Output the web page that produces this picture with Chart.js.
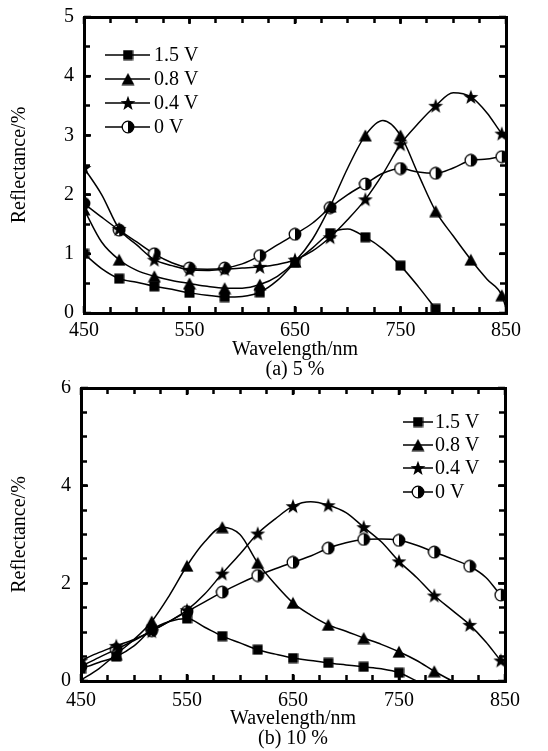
<!DOCTYPE html>
<html><head><meta charset="utf-8">
<script src="https://cdn.jsdelivr.net/npm/chart.js@4.4.1/dist/chart.umd.min.js"></script>
<style>
html,body{margin:0;padding:0;background:#fff;}
#wrap{position:relative;width:548px;height:751px;background:#fff;}
.box{position:absolute;left:0;width:548px;}
canvas{display:block;}
</style></head><body>
<div id="wrap">
<div class="box" style="top:0;height:380px"><canvas id="ca" width="548" height="380"></canvas></div>
<div class="box" style="top:380px;height:371px"><canvas id="cb" width="548" height="371"></canvas></div>
</div>
<script>
// ---------- data ----------
const wavelengths = [450, 466.7, 483.3, 500, 516.7, 533.3, 550, 566.7, 583.3, 600, 616.7, 633.3, 650, 666.7, 683.3, 700, 716.7, 733.3, 750, 766.7, 783.3, 800, 816.7, 832, 846, 850];
const seriesLabels = ['1.5 V', '0.8 V', '0.4 V', '0 V'];
const xTickLabels = [450, 550, 650, 750, 850];
const yTickLabelsA = [0, 1, 2, 3, 4, 5];
const yTickLabelsB = [0, 2, 4, 6];

// (a) 5 %
const a_15V = [1.00, 0.75, 0.58, 0.52, 0.45, 0.40, 0.34, 0.30, 0.27, 0.28, 0.35, 0.55, 0.85, 1.10, 1.35, 1.42, 1.28, 1.08, 0.80, 0.45, 0.07, null, null, null, null, null];
const a_08V = [1.75, 1.20, 0.90, 0.72, 0.62, 0.55, 0.50, 0.45, 0.42, 0.42, 0.48, 0.62, 0.87, 1.25, 1.80, 2.45, 3.00, 3.25, 3.00, 2.35, 1.72, 1.30, 0.90, 0.57, 0.30, 0.08];
const a_04V = [2.45, 2.00, 1.42, 1.15, 0.90, 0.80, 0.73, 0.72, 0.74, 0.76, 0.78, 0.82, 0.90, 1.05, 1.28, 1.58, 1.92, 2.35, 2.85, 3.20, 3.50, 3.72, 3.65, 3.38, 3.03, 2.95];
const a_0V  = [1.85, 1.62, 1.40, 1.20, 1.00, 0.85, 0.76, 0.74, 0.76, 0.83, 0.97, 1.15, 1.33, 1.52, 1.78, 2.00, 2.18, 2.36, 2.44, 2.38, 2.36, 2.45, 2.58, 2.60, 2.64, 2.60];

// (b) 10 %
const b_15V = [0.25, 0.38, 0.50, 0.72, 1.05, 1.22, 1.28, 1.10, 0.92, 0.78, 0.64, 0.55, 0.47, 0.42, 0.37, 0.33, 0.29, 0.25, 0.17, 0.00, null, null, null, null, null, null];
const b_08V = [0.02, 0.25, 0.55, 0.85, 1.22, 1.75, 2.36, 2.85, 3.15, 3.00, 2.42, 1.98, 1.60, 1.35, 1.15, 1.02, 0.88, 0.75, 0.60, 0.42, 0.20, 0.00, null, null, null, null];
const b_04V = [0.42, 0.58, 0.72, 0.85, 1.02, 1.22, 1.45, 1.78, 2.20, 2.60, 3.02, 3.32, 3.58, 3.67, 3.60, 3.45, 3.15, 2.85, 2.45, 2.12, 1.75, 1.45, 1.15, 0.80, 0.42, 0.33];
const b_0V  = [0.30, 0.48, 0.65, 0.83, 1.03, 1.22, 1.42, 1.62, 1.82, 2.00, 2.16, 2.30, 2.43, 2.56, 2.72, 2.83, 2.90, 2.91, 2.88, 2.78, 2.64, 2.50, 2.35, 2.12, 1.76, 1.68];

// ---------- markers ----------
function makeMarker(type) {
  const c = document.createElement('canvas');
  const g = c.getContext('2d');
  if (type === 'square') {
    c.width = 11; c.height = 11;
    g.fillStyle = '#000'; g.fillRect(0.5, 0.5, 10, 10);
  } else if (type === 'triangle') {
    c.width = 14; c.height = 13;
    g.fillStyle = '#000'; g.beginPath();
    g.moveTo(7, 0.5); g.lineTo(13.5, 12.5); g.lineTo(0.5, 12.5); g.closePath(); g.fill();
  } else if (type === 'star') {
    c.width = 16; c.height = 16;
    g.fillStyle = '#000'; g.beginPath();
    for (let i = 0; i < 10; i++) {
      const r = i % 2 === 0 ? 7.8 : 3.2;
      const a = -Math.PI / 2 + i * Math.PI / 5;
      const px = 8 + r * Math.cos(a), py = 8.6 + r * Math.sin(a);
      if (i === 0) g.moveTo(px, py); else g.lineTo(px, py);
    }
    g.closePath(); g.fill();
  } else {
    c.width = 14; c.height = 14;
    g.fillStyle = '#fff'; g.beginPath(); g.arc(7, 7, 5.8, 0, Math.PI * 2); g.fill();
    g.fillStyle = '#000'; g.beginPath(); g.moveTo(7, 7); g.arc(7, 7, 5.8, -Math.PI / 2, Math.PI / 2); g.closePath(); g.fill();
    g.strokeStyle = '#000'; g.lineWidth = 1.3; g.beginPath(); g.arc(7, 7, 5.8, 0, Math.PI * 2); g.stroke();
  }
  return c;
}
const markers = [makeMarker('square'), makeMarker('triangle'), makeMarker('star'), makeMarker('half')];
const FONT = 'Liberation Serif';

function decorPlugin(yLabels, lg) {
  return {
    id: 'decor',
    afterDraw(chart) {
      const ctx = chart.ctx;
      const a = chart.chartArea;
      const xs = chart.scales.x, ys = chart.scales.y;
      ctx.save();
      ctx.fillStyle = '#000';
      // longer inward ticks at labelled values
      xs.ticks.forEach(t => {
        if (xTickLabels.indexOf(t.value) < 0) return;
        const px = xs.getPixelForValue(t.value);
        ctx.fillRect(px - 1.25, a.bottom - 7, 2.5, 7);
        ctx.fillRect(px - 1.25, a.top, 2.5, 7);
      });
      ys.ticks.forEach(t => {
        if (yLabels.indexOf(t.value) < 0) return;
        const py = ys.getPixelForValue(t.value);
        ctx.fillRect(a.left, py - 1.25, 7, 2.5);
        ctx.fillRect(a.right - 7, py - 1.25, 7, 2.5);
      });
      ctx.restore();
      // legend inside the plot
      ctx.save();
      ctx.strokeStyle = '#000'; ctx.fillStyle = '#000'; ctx.lineWidth = 1.5;
      ctx.font = lg.size + 'px "' + FONT + '"';
      ctx.textBaseline = 'middle'; ctx.textAlign = 'left';
      seriesLabels.forEach((lab, i) => {
        const yy = lg.ys[i];
        ctx.beginPath(); ctx.moveTo(lg.x0, yy); ctx.lineTo(lg.x1, yy); ctx.stroke();
        const m = markers[i];
        ctx.drawImage(m, lg.xm - m.width / 2, yy - m.height / 2);
        ctx.fillText(lab, lg.xt, yy + 1);
      });
      ctx.restore();
    }
  };
}

const zeroPad = s => { s.paddingTop = 0; s.paddingBottom = 0; s.paddingLeft = 0; s.paddingRight = 0; };
const gridOpts = { display: true, drawOnChartArea: false, drawTicks: true, tickLength: -6, tickWidth: 2.5, tickColor: '#000' };
const borderOpts = { display: true, color: '#000', width: 3 };

function makeChart(id, cfg) {
  const { H, left, right, top, bottom, padBottom, xPad, yMax, yLabels, series, caption, legend } = cfg;
  return new Chart(document.getElementById(id), {
    type: 'line',
    data: {
      datasets: series.map((s, i) => ({
        label: seriesLabels[i],
        data: wavelengths.map((w, j) => ({ x: w, y: s[j] })),
        borderColor: '#000',
        borderWidth: 1.5,
        fill: false,
        cubicInterpolationMode: 'monotone',
        pointStyle: markers[i],
        pointRadius: ctx => (ctx.dataIndex % 2 === 0 ? 5 : 0),
        pointHoverRadius: 0,
        spanGaps: false
      }))
    },
    options: {
      responsive: false,
      animation: false,
      devicePixelRatio: 1,
      events: [],
      layout: { padding: { left: 0, right: 548 - right, top: top, bottom: padBottom } },
      plugins: { legend: { display: false }, tooltip: { enabled: false } },
      scales: {
        x: {
          type: 'linear', position: 'bottom', min: 450, max: 850,
          afterFit: s => { s.height = H - padBottom - bottom; zeroPad(s); },
          grid: gridOpts, border: borderOpts,
          ticks: {
            stepSize: 25, autoSkip: false, maxRotation: 0, minRotation: 0, padding: xPad, color: '#000',
            font: { family: FONT, size: 20 },
            callback: v => (xTickLabels.indexOf(v) >= 0 ? String(v) : '')
          },
          title: { display: true, text: ['Wavelength/nm', caption], color: '#000',
                   font: { family: FONT, size: 20, lineHeight: 1 }, padding: { top: 0, bottom: 0 } }
        },
        x2: {
          type: 'linear', position: 'top', min: 450, max: 850,
          afterFit: s => { s.height = 0; zeroPad(s); },
          grid: gridOpts, border: borderOpts,
          ticks: { stepSize: 25, autoSkip: false, display: false }
        },
        y: {
          type: 'linear', position: 'left', min: 0, max: yMax,
          afterFit: s => { s.width = left; zeroPad(s); },
          grid: gridOpts, border: borderOpts,
          ticks: {
            stepSize: 0.5, autoSkip: false, padding: 16, color: '#000',
            font: { family: FONT, size: 20 },
            callback: v => (yLabels.indexOf(v) >= 0 ? String(v) : '')
          },
          title: { display: true, text: 'Reflectance/%', color: '#000',
                   font: { family: FONT, size: 20, lineHeight: 1 }, padding: { top: 10, bottom: 0 } }
        },
        y2: {
          type: 'linear', position: 'right', min: 0, max: yMax,
          afterFit: s => { s.width = 0; zeroPad(s); },
          grid: gridOpts, border: borderOpts,
          ticks: { stepSize: 0.5, autoSkip: false, display: false }
        }
      }
    },
    plugins: [decorPlugin(yLabels, legend)]
  });
}

makeChart('ca', {
  H: 380, left: 84, right: 506, top: 17, bottom: 313, padBottom: 0, xPad: 12,
  yMax: 5, yLabels: yTickLabelsA,
  series: [a_15V, a_08V, a_04V, a_0V], caption: '(a) 5 %',
  legend: { x0: 105, x1: 150, xm: 128, xt: 154, ys: [55, 79, 103, 127], size: 20 }
});
makeChart('cb', {
  H: 371, left: 81, right: 505, top: 8, bottom: 301, padBottom: 2, xPad: 14,
  yMax: 6, yLabels: yTickLabelsB,
  series: [b_15V, b_08V, b_04V, b_0V], caption: '(b) 10 %',
  legend: { x0: 403, x1: 433, xm: 418, xt: 435, ys: [42, 65, 88, 112], size: 20 }
});
</script>
</body></html>
